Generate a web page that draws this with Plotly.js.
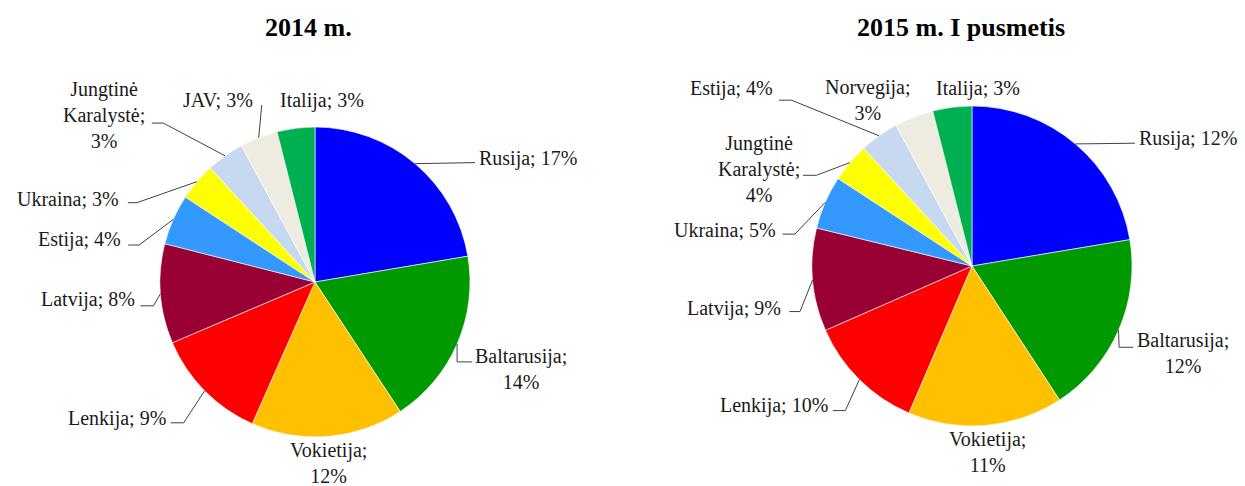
<!DOCTYPE html>
<html>
<head>
<meta charset="utf-8">
<script src="https://cdn.plot.ly/plotly-3.0.1.min.js"></script>
<style>html,body{margin:0;padding:0;background:#fff}#chart{width:1245px;height:486px}</style>
</head>
<body>
<div id="chart"></div>
<script>
// ---- data ----
const titles2014 = '2014 m.';
const titles2015 = '2015 m. I pusmetis';

const countries2014 = ['Rusija','Baltarusija','Vokietija','Lenkija','Latvija','Estija','Ukraina','Jungtinė Karalystė','JAV','Italija'];
const values2014 = [17.0, 14.0, 12.1, 9.1, 7.9, 4.0, 3.0, 3.0, 3.0, 3.0];
const pct2014 = [17, 14, 12, 9, 8, 4, 3, 3, 3, 3];

const countries2015 = ['Rusija','Baltarusija','Vokietija','Lenkija','Latvija','Ukraina','Jungtinė Karalystė','Estija','Norvegija','Italija'];
const values2015 = [17.0, 14.0, 11.9, 9.1, 7.9, 4.1, 3.0, 3.0, 3.0, 3.0];
const pct2015 = [12, 12, 11, 10, 9, 5, 4, 4, 3, 3];

const sliceColors = ['#0000FF','#009900','#FFC000','#FF0000','#990033','#3399FF','#FFFF00','#C6D9F1','#EEECE1','#00B050'];

// ---- layout helpers (pixel geometry) ----
const W = 1245, H = 486;
const pieGeom = [
  {cx: 315, cy: 282, r: 155},
  {cx: 972, cy: 266, r: 160}
];
// label placement relative to slice mid-point on the rim: text offset, anchor side, wrap, leader points
const labelPlace2014 = [
  {x:62, y:-5, xa:'left', l:[[60,-1]]},
  {x:16, y:25, xa:'left', wrap:'pct', l:[[0,18],[15,18]]},
  {x:1, y:27, xa:'center', wrap:'pct'},
  {x:-37, y:28, xa:'right', l:[[-21,32],[-34,32]]},
  {x:-23, y:6, xa:'right', l:[[-7,12],[-20,12]]},
  {x:-50, y:20, xa:'right', l:[[-34,25.5],[-45,25.5]]},
  {x:-76, y:17, xa:'right', l:[[-60,21],[-69,21]]},
  {x:-121, y:-41, xa:'center', wrap:'all', l:[[-61.7,-32.7],[-73.3,-32.7]]},
  {x:-41, y:-37.5, xa:'center', l:[[3,-32.5]]},
  {x:26, y:-28, xa:'center'}
];
const labelPlace2015 = [
  {x:62, y:-5, xa:'left', l:[[59.5,-0.7]]},
  {x:16.6, y:22.5, xa:'left', wrap:'pct', l:[[0.6,17],[14.6,17]]},
  {x:2, y:27, xa:'center', wrap:'pct'},
  {x:-29, y:25.5, xa:'right', l:[[-14,31],[-26.5,31]]},
  {x:-30, y:28.3, xa:'right', l:[[-12.6,31.7],[-23.3,31.7]]},
  {x:-47, y:28, xa:'right', l:[[-30.3,31.8],[-42.6,31.8]]},
  {x:-91, y:6, xa:'center', wrap:'all', l:[[-33.5,12.7],[-47,12.7]]},
  {x:-104, y:-47.3, xa:'right', l:[[-87.5,-35.6],[-100,-35.6]]},
  {x:-46, y:-17, xa:'center', wrap:'pct'},
  {x:26, y:-19, xa:'center'}
];

const px = v => v / W;
const py = v => 1 - v / H;

const labelFont = {family: '"Liberation Serif", "Times New Roman", serif', size: 20, color: '#1a1a1a'};
const titleFont = {family: '"Liberation Serif", "Times New Roman", serif', size: 26, color: '#000'};

function domainFor(g) {
  return {x: [px(g.cx - g.r), px(g.cx + g.r)], y: [py(g.cy + g.r), py(g.cy - g.r)]};
}

function makeTrace(names, vals, g) {
  return {
    type: 'pie', labels: names, values: vals, sort: false, direction: 'clockwise', rotation: 0,
    marker: {colors: sliceColors, line: {color: '#ffffff', width: 0.6}},
    textinfo: 'none', hoverinfo: 'label+percent', domain: domainFor(g)
  };
}

function labelText(name, pct, wrap) {
  if (wrap === 'all') return name.split(' ').join('<br>') + ';<br>' + pct + '%';
  if (wrap === 'pct') return name + ';<br>' + pct + '%';
  return name + '; ' + pct + '%';
}

const annotations = [];
const shapes = [];

function addLabels(names, vals, pcts, place, g) {
  const total = vals.reduce((a, b) => a + b, 0);
  let cum = 0;
  vals.forEach((v, i) => {
    const mid = (cum + v / 2) / total * 2 * Math.PI;
    cum += v;
    const ax = g.cx + g.r * Math.sin(mid);
    const ay = g.cy - g.r * Math.cos(mid);
    const p = place[i];
    annotations.push({
      xref: 'paper', yref: 'paper', x: px(ax + p.x), y: py(ay + p.y),
      xanchor: p.xa, yanchor: 'middle', align: 'center', showarrow: false,
      text: labelText(names[i], pcts[i], p.wrap), font: labelFont
    });
    if (p.l) {
      let path = 'M ' + px(ax) + ' ' + py(ay);
      p.l.forEach(pt => { path += ' L ' + px(ax + pt[0]) + ' ' + py(ay + pt[1]); });
      shapes.push({type: 'path', xref: 'paper', yref: 'paper', path: path, line: {color: '#404040', width: 1}});
    }
  });
}

addLabels(countries2014, values2014, pct2014, labelPlace2014, pieGeom[0]);
addLabels(countries2015, values2015, pct2015, labelPlace2015, pieGeom[1]);

annotations.push({xref: 'paper', yref: 'paper', x: px(308), y: py(27), xanchor: 'center', yanchor: 'middle',
  showarrow: false, text: '<b>' + titles2014 + '</b>', font: titleFont});
annotations.push({xref: 'paper', yref: 'paper', x: px(961), y: py(27), xanchor: 'center', yanchor: 'middle',
  showarrow: false, text: '<b>' + titles2015 + '</b>', font: titleFont});

const layout = {
  width: W, height: H, margin: {l: 0, r: 0, t: 0, b: 0},
  paper_bgcolor: '#ffffff', plot_bgcolor: '#ffffff', showlegend: false,
  annotations: annotations, shapes: shapes
};

Plotly.newPlot('chart', [
  makeTrace(countries2014, values2014, pieGeom[0]),
  makeTrace(countries2015, values2015, pieGeom[1])
], layout, {displayModeBar: false, staticPlot: true});
</script>
</body>
</html>
